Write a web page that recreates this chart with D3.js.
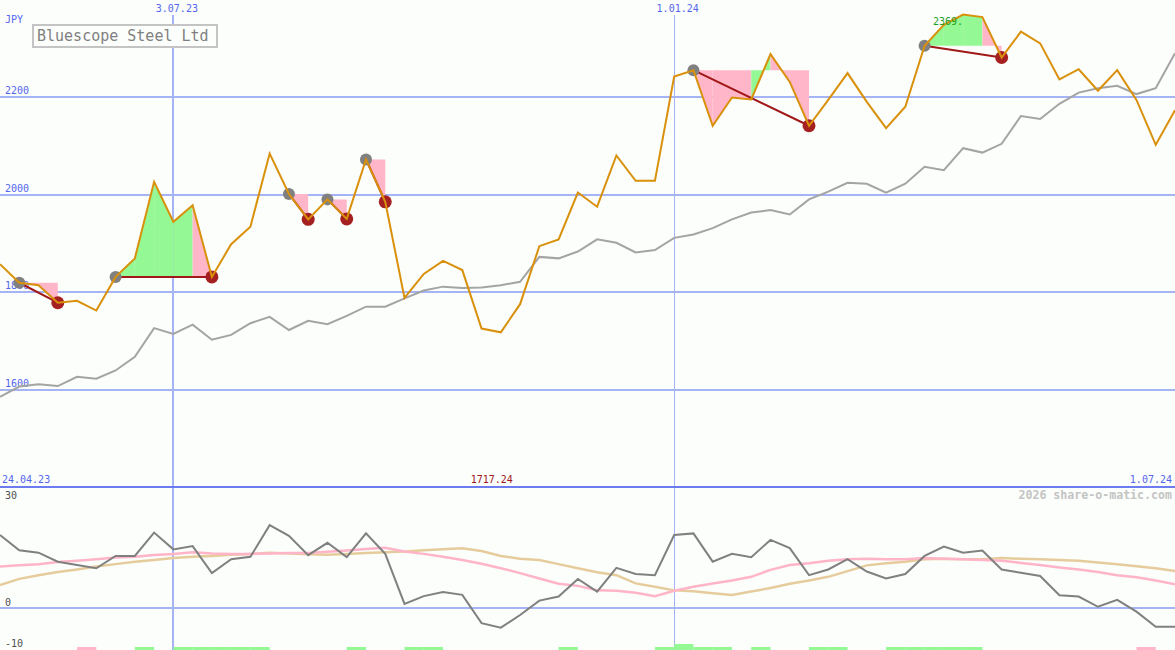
<!DOCTYPE html>
<meta charset="utf-8">
<head>
<title>Bluescope Steel Ltd</title>
<script src="https://d3js.org/d3.v7.min.js"></script>
<style>
body { margin: 0; background: #fbfefb; }
svg { display: block; }
text { font-family: "DejaVu Sans Mono", monospace; font-size: 10px; }
.grid { stroke: #a4b4f4; stroke-width: 2; shape-rendering: crispEdges; }
.lbl { fill: #5566ee; }
</style>
</head>
<body>
<script type="text/javascript">

// weekly closes (JPY)
var price = [1857,1819,1814,1778,1782,1762,1831,1869,2026,1944,
             1978,1831,1898,1934,2084,2001,1949,1990,1950,2072,
             1985,1788,1837,1864,1845,1725,1717.24,1775,1894,1908,
             2004,1975,2080,2028,2028,2242,2255,2141,2199,2195,
             2288,2231,2141,2194,2249,2190,2136,2180,2305,2348,
             2369,2364,2281,2334,2310,2236,2257,2213,2255,2194,
             2102,2173];

// moving average (grey)
var avg = [1585,1606,1611,1607,1626,1622,1639,1667,1726,1714,
           1733,1702,1712,1736,1749,1722,1741,1734,1751,1770,
           1770,1787,1803,1811,1808,1809,1814,1821,1872,1869,
           1883,1908,1901,1881,1886,1911,1918,1931,1949,1963,
           1968,1959,1990,2006,2024,2022,2004,2022,2057,2050,
           2095,2086,2104,2161,2155,2186,2209,2218,2223,2206,
           2218,2290];

// lower panel: oscillator + two smoothings
var osc = [17.8,14.1,13.5,11.3,10.5,9.7,12.7,12.7,18.4,14.3,
           15.1,8.5,11.9,12.5,20.2,17.6,12.9,15.9,12.4,18.2,
           13.2,1.0,2.9,3.9,3.2,-3.7,-4.8,-1.7,1.8,2.8,
           7.1,4.0,9.8,8.3,8.0,17.8,18.2,11.3,13.2,12.4,
           16.6,14.6,8.0,9.4,11.9,8.9,7.2,8.3,12.7,15.0,
           13.5,14.0,9.4,8.6,7.8,3.1,2.8,0.3,2.0,-0.9,
           -4.6,-4.6];
var oscPink = [10.1,10.4,10.7,11.2,11.5,11.9,12.3,12.5,12.9,13.2,
               13.6,13.3,13.2,13.2,13.3,13.4,13.4,13.7,14.0,14.4,
               14.7,13.8,13.2,12.5,11.7,10.8,9.7,8.5,7.2,5.9,
               5.4,4.3,4.2,3.7,2.9,4.2,5.2,6.0,6.7,7.6,
               9.3,10.5,10.9,11.5,11.9,12.0,11.9,11.9,12.2,12.0,
               11.9,11.7,11.5,11.0,10.5,9.9,9.4,8.8,8.0,7.5,
               6.7,5.8];
var oscTan = [5.6,7.1,8.0,8.8,9.4,10.1,10.7,11.3,11.7,12.2,
              12.5,12.7,13.0,13.2,13.5,13.3,13.1,13.0,13.2,13.4,
              13.6,13.8,14.1,14.3,14.6,13.9,12.7,12.0,11.7,10.7,
              9.7,8.7,8.0,6.0,5.2,4.3,4.1,3.6,3.2,4.0,
              4.9,5.9,6.7,7.6,9.0,10.4,10.9,11.3,11.9,12.0,
              11.9,11.9,12.2,12.0,11.9,11.7,11.5,11.1,10.7,10.2,
              9.7,9.0];

// weekly signal bars at the bottom: 1 green, 2 strong green, -1 pink
var flags = [0,0,0,0,-1,0,0,1,0,1,
             1,1,1,1,0,0,0,0,1,0,
             0,1,1,0,0,0,0,0,0,1,
             0,0,0,0,1,2,1,1,0,1,
             0,0,1,1,0,0,1,1,1,1,
             1,0,0,0,0,0,0,0,0,-1,
             0,0];

// trade signals (start week, end week)
var sigStart = [1, 6, 15, 17, 19, 36, 48];
var sigEnd   = [3, 11, 16, 18, 20, 42, 52];

var priceTicks = [2200, 2000, 1800, 1600];
var oscTicks = [30, 0, -10];
var dateIdx = [9, 35];
var dateLabels = ["3.07.23", "1.01.24"];
var firstDate = "24.04.23", lastDate = "1.07.24";

var width = 1175, height = 650;

var x = d3.scaleLinear().domain([0, price.length - 1]).range([0, width]);
var y = d3.scaleLinear().domain([1600, 2200]).range([389.5, 97]);
var yo = d3.scaleLinear().domain([-10, 0]).range([649, 608]);

var svg = d3.select("body").append("svg")
    .attr("width", width)
    .attr("height", height);

svg.append("rect").attr("width", width).attr("height", height).attr("fill", "#fbfefb");

// horizontal grid, price panel
svg.selectAll(".gp").data(priceTicks).enter().append("line")
    .attr("class", "grid")
    .attr("x1", 0).attr("x2", width)
    .attr("y1", function(d) { return Math.round(y(d)); })
    .attr("y2", function(d) { return Math.round(y(d)); });
svg.selectAll(".gpl").data(priceTicks).enter().append("text")
    .attr("class", "lbl")
    .attr("x", 5)
    .attr("y", function(d) { return y(d) - 3; })
    .text(function(d) { return d; });
svg.append("text").attr("class", "lbl").attr("x", 5).attr("y", 23).text("JPY");

// zero line in lower panel
svg.append("line")
    .attr("class", "grid")
    .attr("x1", 0).attr("x2", width)
    .attr("y1", yo(0)).attr("y2", yo(0));

// date lines
svg.selectAll(".vd").data(dateIdx).enter().append("line")
    .attr("x1", function(d) { return x(d); })
    .attr("x2", function(d) { return x(d); })
    .attr("y1", 15).attr("y2", height)
    .attr("stroke", "#a4b4f4")
    .attr("stroke-width", function(d, i) { return i == 0 ? 2 : 1; })
    .style("shape-rendering", "crispEdges");
svg.selectAll(".vdl").data(dateIdx).enter().append("text")
    .attr("class", "lbl")
    .attr("x", function(d) { return x(d) + 3.5; })
    .attr("y", 12)
    .attr("text-anchor", "middle")
    .text(function(d, i) { return dateLabels[i]; });

// panel divider
svg.append("line")
    .attr("x1", 0).attr("x2", width)
    .attr("y1", 487).attr("y2", 487)
    .attr("stroke", "#6c7cf0").attr("stroke-width", 2)
    .style("shape-rendering", "crispEdges");

svg.append("text").attr("class", "lbl").attr("x", 2).attr("y", 483).text(firstDate);
svg.append("text").attr("class", "lbl").attr("x", 1172).attr("y", 483)
    .attr("text-anchor", "end").text(lastDate);
svg.append("text").attr("x", x(26) - 9).attr("y", 483)
    .attr("text-anchor", "middle").attr("fill", "#a01818")
    .text(d3.min(price).toFixed(2));
svg.append("text").attr("x", 1172).attr("y", 499)
    .attr("text-anchor", "end").attr("fill", "#c4c4c4")
    .style("font-weight", "bold").style("font-size", "11.6px")
    .text("2026 share-o-matic.com");

// osc axis labels
svg.selectAll(".ol").data(oscTicks).enter().append("text")
    .attr("x", 5)
    .attr("y", function(d) { return d == 30 ? 499 : yo(d) - 2.5; })
    .attr("fill", "#505050")
    .text(function(d) { return d; });

// moving average
svg.append("path")
    .datum(avg)
    .attr("fill", "none")
    .attr("stroke", "#a4a4a4")
    .attr("stroke-width", 2)
    .attr("d", d3.line().x(function(d, i) { return x(i); }).y(function(d) { return y(d); }));

// signal fills: area between entry level and price, coloured per week
sigStart.forEach(function(s, k) {
  var e = sigEnd[k], level = price[s];
  for (var i = s; i < e; i++) {
    svg.append("path")
        .datum([i, i + 1])
        .attr("fill", price[i + 1] > level ? "#94f894" : "#ffb6c8")
        .attr("d", d3.area()
            .x(function(j) { return x(j); })
            .y0(y(level))
            .y1(function(j) { return y(price[j]); }));
  }
});

// signal connectors + markers
svg.selectAll(".conn").data(sigStart).enter().append("line")
    .attr("x1", function(d) { return x(d); })
    .attr("y1", function(d) { return y(price[d]); })
    .attr("x2", function(d, i) { return x(sigEnd[i]); })
    .attr("y2", function(d, i) { return y(price[sigEnd[i]]); })
    .attr("stroke", "#a01818").attr("stroke-width", 2);
svg.selectAll(".ms").data(sigStart).enter().append("circle")
    .attr("cx", function(d) { return x(d); })
    .attr("cy", function(d) { return y(price[d]); })
    .attr("r", 6).attr("fill", "#808080");
svg.selectAll(".me").data(sigEnd).enter().append("circle")
    .attr("cx", function(d) { return x(d); })
    .attr("cy", function(d) { return y(price[d]); })
    .attr("r", 6.5).attr("fill", "#a52020");

// price line
svg.append("path")
    .datum(price)
    .attr("fill", "none")
    .attr("stroke", "#d9900a")
    .attr("stroke-width", 2)
    .attr("d", d3.line().x(function(d, i) { return x(i); }).y(function(d) { return y(d); }));

// max label
var iMax = d3.maxIndex(price);
svg.append("text")
    .attr("x", x(iMax)).attr("y", y(price[iMax]) + 10)
    .attr("text-anchor", "end").attr("fill", "#1f9e1f")
    .text(price[iMax] + ".");

// lower panel lines
var oline = d3.line().x(function(d, i) { return x(i); }).y(function(d) { return yo(d); });
svg.append("path").datum(oscTan).attr("fill", "none")
    .attr("stroke", "#e6cc9c").attr("stroke-width", 2.5).attr("d", oline);
svg.append("path").datum(oscPink).attr("fill", "none")
    .attr("stroke", "#ffb4c8").attr("stroke-width", 2.5).attr("d", oline);
svg.append("path").datum(osc).attr("fill", "none")
    .attr("stroke", "#808080").attr("stroke-width", 2).attr("d", oline);

// bottom signal bars
flags.forEach(function(f, i) {
  if (f == 0) return;
  svg.append("rect")
      .attr("x", x(i)).attr("width", x(i + 1) - x(i))
      .attr("y", f == 2 ? 644 : 647).attr("height", f == 2 ? 6 : 3)
      .attr("fill", f < 0 ? "#ffb6c8" : "#94f894");
});

// title box
svg.append("rect")
    .attr("x", 33).attr("y", 25).attr("width", 184).attr("height", 22)
    .attr("fill", "#fbfefb").attr("stroke", "#c4c4c4").attr("stroke-width", 2);
svg.append("text")
    .attr("x", 37).attr("y", 41)
    .attr("fill", "#808080")
    .style("font-size", "15px")
    .text("Bluescope Steel Ltd");

</script>
</body>
